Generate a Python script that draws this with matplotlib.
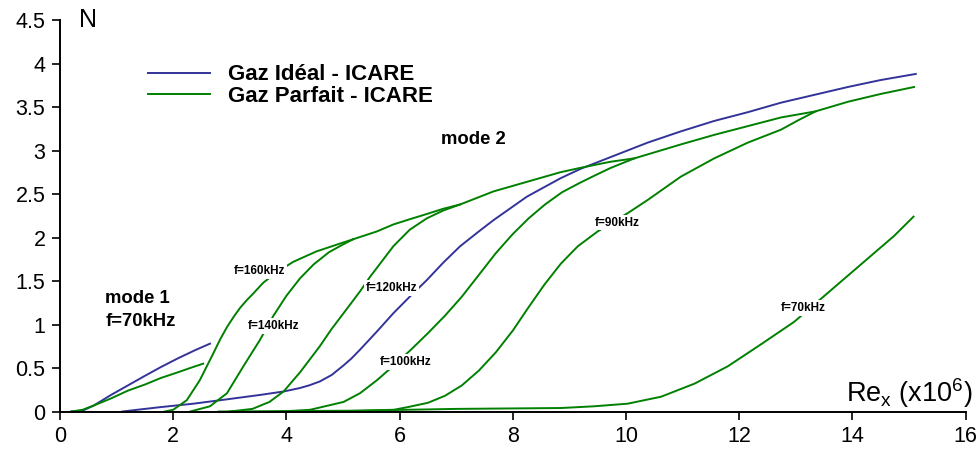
import numpy as np
import matplotlib
matplotlib.use("Agg")
import matplotlib.pyplot as plt
from matplotlib.lines import Line2D

plt.rcParams['font.family'] = ['Liberation Sans', 'DejaVu Sans']

# mode 1, f=70kHz
ideal_m1_x = [0.2, 0.4, 0.6, 0.9, 1.2, 1.5, 1.78, 2.08, 2.37, 2.65]
ideal_m1_y = [0.0, 0.01, 0.07, 0.19, 0.30, 0.41, 0.51, 0.61, 0.70, 0.78]
parf_m1_x = [0.2, 0.4, 0.6, 0.9, 1.2, 1.5, 1.78, 2.08, 2.3, 2.53]
parf_m1_y = [0.0, 0.02, 0.07, 0.15, 0.24, 0.31, 0.385, 0.45, 0.50, 0.55]

# mode 2, gaz ideal
ideal_m2_x = [1.1, 1.77, 2.36, 2.95, 3.53, 3.95, 4.24, 4.4, 4.59, 4.8, 5.01, 5.15, 5.30, 5.6,
              5.89, 6.18, 6.48, 6.77, 7.07, 7.42, 7.66, 8.25, 8.84, 9.2, 9.79, 10.38, 10.97,
              11.56, 12.15, 12.74, 13.33, 13.92, 14.5, 15.12]
ideal_m2_y = [0.0, 0.05, 0.09, 0.14, 0.19, 0.23, 0.27, 0.30, 0.345, 0.42, 0.53, 0.61, 0.71, 0.92,
              1.13, 1.32, 1.51, 1.71, 1.90, 2.08, 2.20, 2.47, 2.68, 2.79, 2.94, 3.09, 3.22,
              3.34, 3.44, 3.55, 3.64, 3.73, 3.81, 3.88]

# mode 2, gaz parfait, one curve per frequency
f160_x = [1.85, 2.0, 2.24, 2.47, 2.71, 2.83, 2.95, 3.07, 3.18, 3.3, 3.42, 3.59, 3.85, 4.12,
          4.53, 4.9, 5.18]
f160_y = [0.0, 0.02, 0.13, 0.36, 0.67, 0.83, 0.97, 1.09, 1.19, 1.28, 1.36, 1.48, 1.61, 1.72,
          1.84, 1.92, 1.98]

f140_x = [2.3, 2.65, 2.95, 3.24, 3.53, 3.77, 4.0, 4.24, 4.48, 4.75, 5.0, 5.18, 5.6, 5.89,
          6.18, 6.48, 6.77, 7.07]
f140_y = [0.0, 0.06, 0.21, 0.52, 0.82, 1.10, 1.33, 1.53, 1.69, 1.83, 1.92, 1.98, 2.07, 2.15,
          2.21, 2.27, 2.33, 2.38]

f120_x = [3.0, 3.4, 3.7, 3.95, 4.24, 4.59, 4.8, 5.01, 5.30, 5.48, 5.89, 6.18, 6.48, 6.77,
          7.07, 7.66, 8.25, 8.84, 9.19, 9.72, 10.15]
f120_y = [0.0, 0.03, 0.11, 0.23, 0.45, 0.75, 0.95, 1.13, 1.38, 1.55, 1.90, 2.09, 2.22, 2.31,
          2.38, 2.53, 2.64, 2.75, 2.80, 2.87, 2.91]

f100_x = [3.9, 4.42, 5.01, 5.3, 5.6, 5.9, 6.2, 6.5, 6.8, 7.1, 7.4, 7.7, 8.0, 8.28, 8.57,
          8.87, 9.19, 9.44, 9.73, 10.15, 10.97, 11.56, 12.15, 12.74, 13.35]
f100_y = [0.0, 0.02, 0.11, 0.21, 0.36, 0.53, 0.71, 0.90, 1.10, 1.32, 1.57, 1.82, 2.04, 2.22,
          2.38, 2.52, 2.63, 2.71, 2.80, 2.91, 3.07, 3.18, 3.28, 3.38, 3.45]

f90_x = [4.8, 5.9, 6.14, 6.5, 6.8, 7.1, 7.4, 7.7, 8.0, 8.27, 8.56, 8.85, 9.15, 9.5, 9.8,
         10.03, 10.38, 10.97, 11.56, 12.15, 12.74, 13.05, 13.35, 13.92, 14.5, 15.09]
f90_y = [0.0, 0.02, 0.05, 0.10, 0.18, 0.30, 0.47, 0.68, 0.93, 1.19, 1.46, 1.70, 1.90, 2.07,
         2.19, 2.28, 2.43, 2.70, 2.91, 3.09, 3.24, 3.35, 3.45, 3.56, 3.65, 3.73]

f70_x = [2.8, 4.0, 5.3, 7.0, 8.85, 9.44, 10.03, 10.62, 11.21, 11.8, 12.38, 12.97, 13.56,
         14.15, 14.74, 15.08]
f70_y = [0.0, 0.005, 0.01, 0.03, 0.04, 0.06, 0.09, 0.17, 0.32, 0.52, 0.77, 1.03, 1.36,
         1.69, 2.02, 2.24]

# curve labels: text, x, y
freq_labels = ["f=160kHz", "f=140kHz", "f=120kHz", "f=100kHz", "f=90kHz", "f=70kHz"]
freq_label_x = [3.53, 3.77, 5.86, 6.10, 9.84, 13.13]
freq_label_y = [1.61, 0.98, 1.42, 0.57, 2.17, 1.19]

xticks = [0, 2, 4, 6, 8, 10, 12, 14, 16]
yticks = [0, 0.5, 1, 1.5, 2, 2.5, 3, 3.5, 4, 4.5]
ytick_labels = ["0", "0.5", "1", "1.5", "2", "2.5", "3", "3.5", "4", "4.5"]

BLUE = "#333399"
GREEN = "#008000"
LW = 1.4

fig = plt.figure(figsize=(9.79, 4.62), dpi=100)
ax = fig.add_axes([0.0613, 0.1093, 0.925, 0.8474])

ax.plot(ideal_m1_x, ideal_m1_y, color=BLUE, lw=LW, clip_on=False)
ax.plot(parf_m1_x, parf_m1_y, color=GREEN, lw=LW, clip_on=False)
ax.plot(ideal_m2_x, ideal_m2_y, color=BLUE, lw=LW, clip_on=False)
for cx, cy in [(f160_x, f160_y), (f140_x, f140_y), (f120_x, f120_y),
               (f100_x, f100_y), (f90_x, f90_y), (f70_x, f70_y)]:
    ax.plot(cx, cy, color=GREEN, lw=LW, clip_on=False)

for txt, lx, ly in zip(freq_labels, freq_label_x, freq_label_y):
    ax.text(lx, ly, txt, fontsize=8.5, fontweight="bold", ha="center", va="center",
            zorder=5, bbox=dict(boxstyle="square,pad=0.15", fc="white", ec="none"))

ax.text(0.8, 1.30, "mode 1", fontsize=13.3, fontweight="bold", ha="left", va="center")
ax.text(0.8, 1.04, "f=70kHz", fontsize=13.3, fontweight="bold", ha="left", va="center")
ax.text(7.3, 3.13, "mode 2", fontsize=13.3, fontweight="bold", ha="center", va="center")

handles = [Line2D([], [], color=BLUE, lw=LW), Line2D([], [], color=GREEN, lw=LW)]
fig.legend(handles, ["Gaz Idéal - ICARE", "Gaz Parfait - ICARE"], loc="center left",
           bbox_to_anchor=(148 / 979, 1 - 85.5 / 462), frameon=False,
           prop=dict(size=16, weight="bold"), handlelength=2.8, handletextpad=0.8,
           labelspacing=0.0, borderpad=0, borderaxespad=0)

ax.set_xlim(0, 16)
ax.set_ylim(0, 4.5)
ax.set_xticks(xticks)
ax.set_yticks(yticks)
ax.set_yticklabels(ytick_labels)
ax.tick_params(direction="out", length=5.5, width=1.2, pad=5, labelsize=15.5)
for side in ["top", "right"]:
    ax.spines[side].set_visible(False)
for side in ["left", "bottom"]:
    ax.spines[side].set_linewidth(1.4)

ax.text(0.5, 4.5, "N", fontsize=18, ha="center", va="center", clip_on=False)
ax.text(16.12, 0.11, r"Re$_\mathregular{x}$ (x10$^\mathregular{6}$)", fontsize=19.5,
        ha="right", va="baseline", clip_on=False)

fig.savefig("out.png", dpi=100)
